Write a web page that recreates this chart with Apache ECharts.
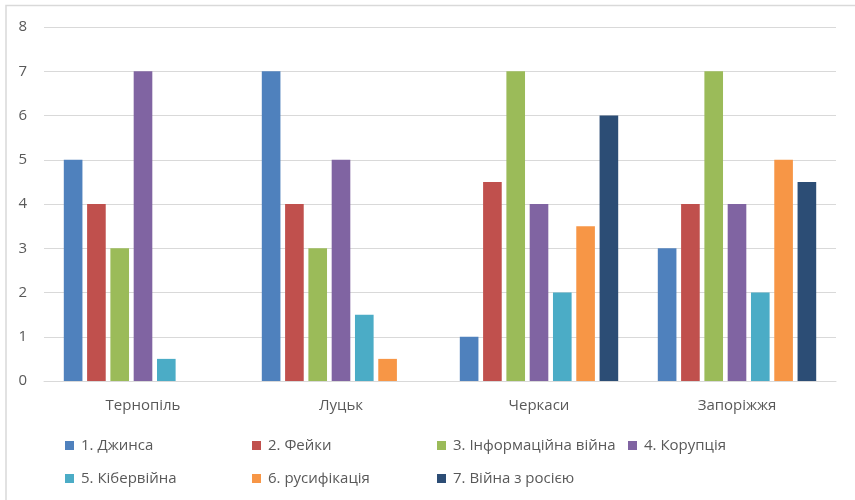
<!DOCTYPE html>
<html>
<head>
<meta charset="utf-8">
<script src="https://cdn.jsdelivr.net/npm/echarts@6/dist/echarts.min.js"></script>
<style>
  html, body { margin: 0; padding: 0; background: #fff; }
  #chart { width: 855px; height: 500px; }
</style>
</head>
<body>
<div id="chart"></div>
<script>
// Cities on the category axis
const cities = ['Тернопіль', 'Луцьк', 'Черкаси', 'Запоріжжя'];

// Topic names (legend entries)
const topics = [
  '1. Джинса',
  '2. Фейки',
  '3. Інформаційна війна',
  '4. Корупція',
  '5. Кібервійна',
  '6. русифікація',
  '7. Війна з росією'
];

// Scores per topic, one value per city
const dzhynsa        = [5, 7, 1, 3];
const feiky          = [4, 4, 4.5, 4];
const infoViina      = [3, 3, 7, 7];
const koruptsiia     = [7, 5, 4, 4];
const kiberviina     = [0.5, 1.5, 2, 2];
const rusyfikatsiia  = [0, 0.5, 3.5, 5];
const viinaZRosiieiu = [0, 0, 6, 4.5];

const seriesValues = [dzhynsa, feiky, infoViina, koruptsiia, kiberviina, rusyfikatsiia, viinaZRosiieiu];

// Value axis ticks
const yTicks = [0, 1, 2, 3, 4, 5, 6, 7, 8];

const colors = ['#4F81BD', '#C0504D', '#9BBB59', '#8064A2', '#4BACC6', '#F79646', '#2C4D75'];
const textColor = '#595959';
const fontFamily = '"Open Sans", "Noto Sans", sans-serif';
const fontSize = 15;

// Legend laid out as a grid: four columns, two rows
const legendCols = [65, 252, 437, 628];
const legendRows = [438, 471];

const legends = topics.map((name, i) => ({
  orient: 'horizontal',
  left: legendCols[i % 4],
  top: legendRows[Math.floor(i / 4)],
  padding: 0,
  itemWidth: 9,
  itemHeight: 9,
  icon: 'rect',
  selectedMode: false,
  data: [name],
  textStyle: { color: textColor, fontSize: fontSize, fontFamily: fontFamily, padding: [0, 0, 0, 2] }
}));

const chart = echarts.init(document.getElementById('chart'), null, { renderer: 'canvas' });

chart.setOption({
  animation: false,
  color: colors,
  grid: { left: 44, right: 19, top: 27, bottom: 119, containLabel: false },
  legend: legends,
  xAxis: {
    type: 'category',
    data: cities,
    axisLine: { lineStyle: { color: '#D9D9D9', width: 1 } },
    axisTick: { show: false },
    axisLabel: { color: textColor, fontSize: fontSize, fontFamily: fontFamily, margin: 17 }
  },
  yAxis: {
    type: 'value',
    min: yTicks[0],
    max: yTicks[yTicks.length - 1],
    interval: 1,
    axisLine: { show: false },
    axisTick: { show: false },
    axisLabel: { color: textColor, fontSize: fontSize, fontFamily: fontFamily, margin: 17 },
    splitLine: { lineStyle: { color: '#D9D9D9', width: 1 } }
  },
  series: topics.map((name, i) => ({
    name: name,
    type: 'bar',
    data: seriesValues[i],
    barGap: '25%',
    barCategoryGap: '20%',
    itemStyle: { color: colors[i] }
  })),
  graphic: [
    {
      type: 'polyline',
      silent: true,
      shape: { points: [[6, 500], [6, 5.5], [855, 5.5]] },
      style: { stroke: '#D9D9D9', lineWidth: 1.5, fill: null }
    }
  ]
});
</script>
</body>
</html>
